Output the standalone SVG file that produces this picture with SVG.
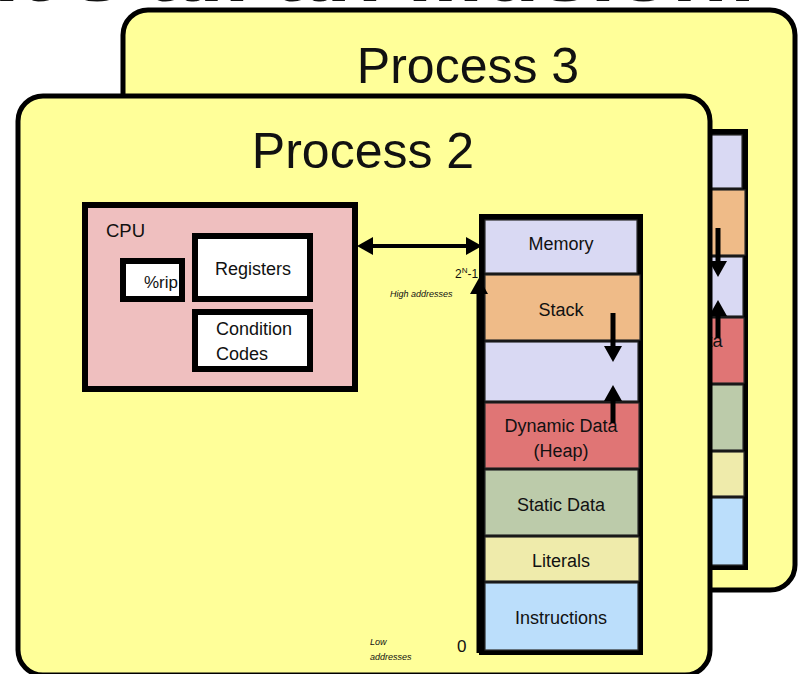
<svg xmlns="http://www.w3.org/2000/svg" width="798" height="674" viewBox="0 0 798 674">
<style>
  text { font-family: "Liberation Sans", Arial, sans-serif; fill: #111; }
  .proc { fill: #ffff99; stroke: #000; stroke-width: 5; }
  .ptitle { font-size: 50px; text-anchor: middle; }
  .seg { stroke: #2a2a2a; stroke-width: 1.2; }
  .lbl { font-size: 18px; text-anchor: middle; }
  .mem { fill: #d9d9f3; }
  .stack { fill: #efbb88; }
  .heap { fill: #e07575; }
  .static { fill: #bccbaa; }
  .lit { fill: #efebab; }
  .instr { fill: #bbdefb; }
  .box { fill: #fff; stroke: #000; stroke-width: 6; }
  .arr { stroke: #000; fill: none; marker-end: url(#ah); }
  .small { font-size: 9px; font-style: italic; }
</style>
<defs>
  <marker id="ah" viewBox="0 0 16 18" refX="0" refY="9" markerWidth="16" markerHeight="18" markerUnits="userSpaceOnUse" orient="auto-start-reverse">
    <path d="M0,0 L16,9 L0,18 z" fill="#000"/>
  </marker>
</defs>
<rect width="798" height="674" fill="#fff"/>

<text x="-6" y="1" font-size="74" font-weight="bold" textLength="764" lengthAdjust="spacingAndGlyphs">It's all an illusion!</text>

<g id="process3">
  <rect class="proc" x="123" y="10" width="672" height="580" rx="25"/>
  <text class="ptitle" x="468" y="83">Process 3</text>
  <g id="p3-memory" transform="translate(105,-85)">
    <rect x="479" y="214" width="164" height="441" fill="#000"/>
    <rect class="seg mem" x="485" y="220" width="152" height="53"/>
    <rect class="seg stack" x="485" y="275" width="155" height="65"/>
    <rect class="seg mem" x="485" y="342" width="153" height="59"/>
    <rect class="seg heap" x="485" y="403" width="154" height="65"/>
    <rect class="seg static" x="485" y="470" width="153" height="65"/>
    <rect class="seg lit" x="485" y="537" width="154" height="44"/>
    <rect class="seg instr" x="485" y="583" width="153" height="67"/>
    <text class="lbl" x="561" y="250" font-size="22">Memory</text>
    <text class="lbl" x="561" y="316">Stack</text>
    <text class="lbl" x="561" y="432">Dynamic Data</text>
    <text class="lbl" x="561" y="457">(Heap)</text>
    <text class="lbl" x="561" y="511">Static Data</text>
    <text class="lbl" x="561" y="567">Literals</text>
    <text class="lbl" x="561" y="624">Instructions</text>
    <line class="arr" x1="613" y1="313" x2="613" y2="346" stroke-width="5"/>
    <line class="arr" x1="613" y1="423" x2="613" y2="401" stroke-width="5"/>
  </g>
</g>

<g id="process2">
  <rect class="proc" x="18" y="96" width="692" height="579" rx="25"/>
  <text class="ptitle" x="363" y="168">Process 2</text>
</g>

<g id="cpu">
  <rect x="85" y="205" width="270" height="184" fill="#efbfbf" stroke="#000" stroke-width="6"/>
  <text x="106" y="237" font-size="18.5">CPU</text>
</g>
<g id="rip">
  <rect class="box" x="123" y="261" width="59" height="38"/>
  <text x="144" y="288" font-size="17">%rip</text>
  <rect x="179" y="258" width="6" height="44" fill="#000"/>
</g>
<g id="registers">
  <rect class="box" x="195" y="236" width="115" height="63"/>
  <text x="253" y="275" font-size="18" text-anchor="middle">Registers</text>
</g>
<g id="condition-codes">
  <rect class="box" x="195" y="312" width="115" height="57"/>
  <text x="216" y="335" font-size="18">Condition</text>
  <text x="216" y="360" font-size="18">Codes</text>
</g>

<g id="memory">
  <rect x="479" y="214" width="164" height="441" fill="#000"/>
  <g id="mem-header"><rect class="seg mem" x="485" y="220" width="152" height="53"/><text class="lbl" x="561" y="250" font-size="22">Memory</text></g>
  <g id="stack"><rect class="seg stack" x="485" y="275" width="155" height="65"/><text class="lbl" x="561" y="316">Stack</text></g>
  <g id="free"><rect class="seg mem" x="485" y="342" width="153" height="59"/></g>
  <g id="heap"><rect class="seg heap" x="485" y="403" width="154" height="65"/><text class="lbl" x="561" y="432">Dynamic Data</text><text class="lbl" x="561" y="457">(Heap)</text></g>
  <g id="static"><rect class="seg static" x="485" y="470" width="153" height="65"/><text class="lbl" x="561" y="511">Static Data</text></g>
  <g id="literals"><rect class="seg lit" x="485" y="537" width="154" height="44"/><text class="lbl" x="561" y="567">Literals</text></g>
  <g id="instructions"><rect class="seg instr" x="485" y="583" width="153" height="67"/><text class="lbl" x="561" y="624">Instructions</text></g>
</g>

<g id="labels">
  <text x="455" y="278" font-size="12">2<tspan font-size="8" dy="-5">N</tspan><tspan dy="5">-1</tspan></text>
  <text class="small" x="390" y="297">High addresses</text>
  <text class="small" x="370" y="645">Low</text>
  <text class="small" x="370" y="660">addresses</text>
  <text x="457" y="652" font-size="17">0</text>
</g>

<g id="connectors">
  <line class="arr" x1="373" y1="246" x2="466" y2="246" stroke-width="4" marker-start="url(#ah)"/>
  <line class="arr" x1="479" y1="653" x2="479" y2="294" stroke-width="5"/>
  <line class="arr" x1="613" y1="313" x2="613" y2="346" stroke-width="5"/>
  <line class="arr" x1="613" y1="423" x2="613" y2="401" stroke-width="5"/>
</g>
</svg>
